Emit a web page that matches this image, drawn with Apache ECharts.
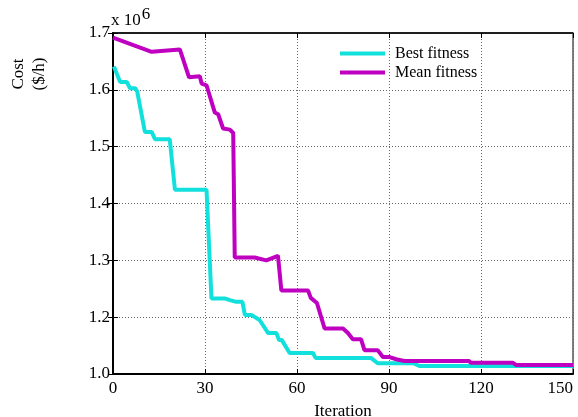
<!DOCTYPE html>
<html>
<head>
<meta charset="utf-8">
<script src="https://cdn.jsdelivr.net/npm/echarts@6/dist/echarts.min.js"></script>
<style>html,body{margin:0;padding:0;background:#fff}#c{width:578px;height:417px}</style>
</head>
<body>
<div id="c"></div>
<script>
// Data
var bestIter = [0.3, 2.3, 4.5, 5.5, 7.2, 7.9, 10.4, 12.6, 13.7, 18.5, 18.7, 20.2, 30.5, 32.1, 36.4, 38.1, 40.2, 42.2, 43, 45.1, 47.8, 50.6, 53.3, 54.1, 55, 57.6, 65.2, 66.1, 84.2, 86.3, 98, 99.9, 150];
var bestCost = [1.641, 1.614, 1.614, 1.603, 1.603, 1.597, 1.526, 1.526, 1.513, 1.513, 1.511, 1.424, 1.424, 1.233, 1.233, 1.230, 1.227, 1.227, 1.204, 1.204, 1.195, 1.172, 1.172, 1.160, 1.160, 1.137, 1.137, 1.128, 1.128, 1.119, 1.119, 1.114, 1.114];
var meanIter = [0, 12.6, 21.8, 24.8, 28.3, 28.9, 30.5, 33.2, 34.3, 35.9, 38.1, 39.2, 39.7, 46.2, 50, 53.8, 54.9, 63.6, 64.5, 66.5, 69, 75, 76.6, 78.2, 80.9, 82, 86.3, 88, 90, 92.3, 95, 116, 116.7, 130.3, 131.4, 150];
var meanCost = [1.692, 1.667, 1.671, 1.622, 1.624, 1.611, 1.608, 1.560, 1.557, 1.532, 1.530, 1.524, 1.305, 1.305, 1.300, 1.308, 1.247, 1.247, 1.234, 1.225, 1.180, 1.180, 1.172, 1.161, 1.161, 1.142, 1.142, 1.130, 1.130, 1.126, 1.123, 1.123, 1.120, 1.120, 1.116, 1.116];
var xTicks = [0, 30, 60, 90, 120, 150];
var yTickValues = [1.1, 1.2, 1.3, 1.4, 1.5, 1.6, 1.7];
var yTickLabels = ['1.0', '1.2', '1.3', '1.4', '1.5', '1.6', '1.7'];
var seriesNames = ['Best fitness', 'Mean fitness'];

function pairs(xs, ys) { return xs.map(function (x, i) { return [x, ys[i]]; }); }
function yLabel(v) {
  for (var i = 0; i < yTickValues.length; i++) if (Math.abs(v - yTickValues[i]) < 1e-6) return yTickLabels[i];
  return '';
}
var FONT = 'Liberation Serif';
var chart = echarts.init(document.getElementById('c'));
chart.setOption({
  animation: false,
  backgroundColor: '#fff',
  grid: { left: 113, right: 5, top: 33, bottom: 43, containLabel: false, outerBoundsMode: 'none',
    show: true, borderColor: '#000', borderWidth: 1 },
  legend: {
    orient: 'vertical', left: 335, top: 40, icon: 'rect', itemWidth: 45, itemHeight: 4, itemGap: 2,
    textStyle: { fontFamily: FONT, fontSize: 16, color: '#000', lineHeight: 17, padding: [0, 0, 0, 5] },
    data: seriesNames
  },
  xAxis: [{
    type: 'value', min: xTicks[0], max: xTicks[xTicks.length - 1], interval: 30,
    axisLine: { lineStyle: { color: '#000', width: 2 } },
    axisTick: { inside: true, length: 5, lineStyle: { color: '#000' } },
    axisLabel: { fontFamily: FONT, fontSize: 17, color: '#000', margin: 6, alignMaxLabel: 'right' },
    splitLine: { show: true, lineStyle: { color: '#666', type: [1, 2], width: 1 } },
    name: 'Iteration', nameLocation: 'middle', nameGap: 29,
    nameTextStyle: { fontFamily: FONT, fontSize: 17, color: '#000' }
  }, {
    type: 'value', position: 'top', min: 0, max: 150, interval: 30,
    axisLine: { show: true, lineStyle: { color: '#000', width: 1.5 } },
    axisTick: { inside: true, length: 5, lineStyle: { color: '#000' } },
    axisLabel: { show: false }, splitLine: { show: false }
  }],
  yAxis: [{
    type: 'value', min: 1.1, max: 1.7, interval: 0.1,
    axisLine: { show: true, lineStyle: { color: '#000', width: 2 } },
    axisTick: { show: true, inside: true, length: 5, lineStyle: { color: '#000' } },
    axisLabel: { fontFamily: FONT, fontSize: 17, color: '#000', margin: 3, formatter: yLabel },
    splitLine: { show: true, lineStyle: { color: '#666', type: [1, 2], width: 1 } }
  }, {
    type: 'value', position: 'right', min: 1.1, max: 1.7, interval: 0.1,
    axisLine: { show: true, lineStyle: { color: '#000', width: 1.5 } },
    axisTick: { show: true, inside: true, length: 5, lineStyle: { color: '#000' } },
    axisLabel: { show: false }, splitLine: { show: false }
  }],
  graphic: [{
    type: 'text', left: 111, top: 6,
    style: { text: 'x 10{s|6}', fontFamily: FONT, fontSize: 17, fill: '#000',
      rich: { s: { fontFamily: FONT, fontSize: 17, verticalAlign: 'top', padding: [0, 0, 12, 1] } } }
  }, {
    type: 'text', x: 29, y: 74, rotation: Math.PI / 2,
    style: { text: 'Cost\n($/h)', fontFamily: FONT, fontSize: 17, fill: '#000', align: 'center', verticalAlign: 'middle', lineHeight: 21 }
  }],
  series: [{
    name: seriesNames[0], type: 'line', symbol: 'none', data: pairs(bestIter, bestCost),
    lineStyle: { color: '#12e0dc', width: 4 }, itemStyle: { color: '#12e0dc' }
  }, {
    name: seriesNames[1], type: 'line', symbol: 'none', data: pairs(meanIter, meanCost),
    lineStyle: { color: '#c000c0', width: 4 }, itemStyle: { color: '#c000c0' }
  }]
});
</script>
</body>
</html>
